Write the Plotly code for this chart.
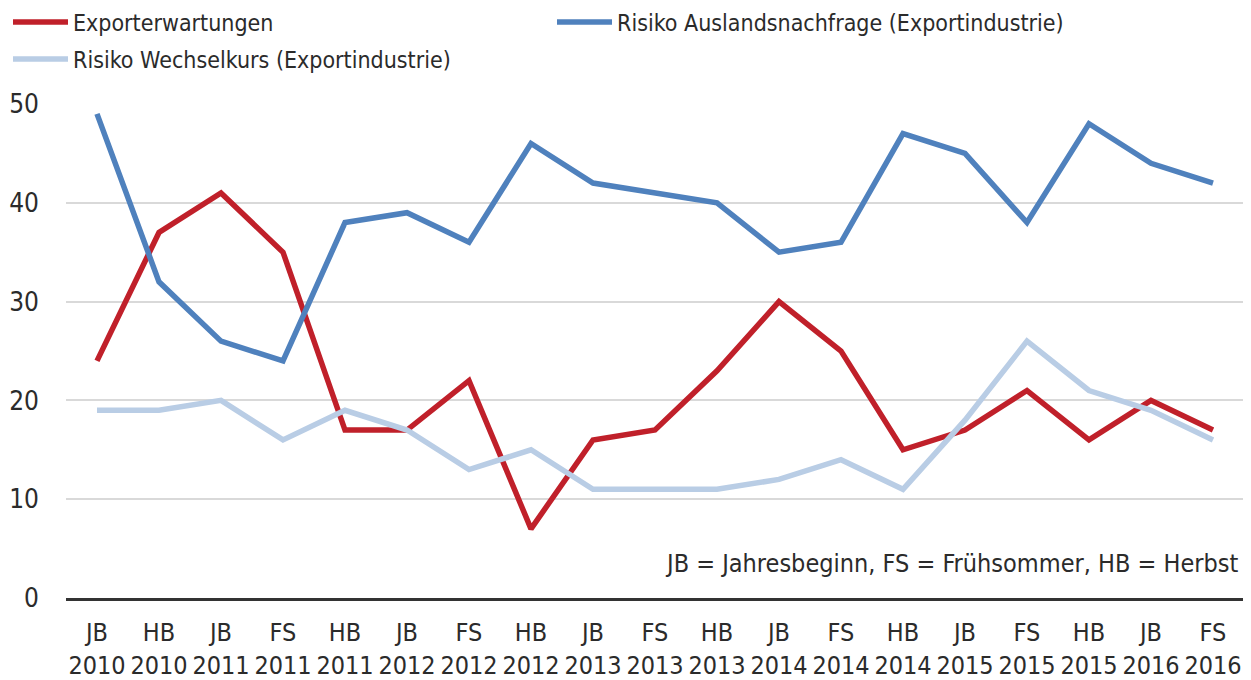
import plotly.graph_objects as go

categories = ["JB<br>2010", "HB<br>2010", "JB<br>2011", "FS<br>2011", "HB<br>2011", "JB<br>2012",
              "FS<br>2012", "HB<br>2012", "JB<br>2013", "FS<br>2013", "HB<br>2013", "JB<br>2014",
              "FS<br>2014", "HB<br>2014", "JB<br>2015", "FS<br>2015", "HB<br>2015", "JB<br>2016",
              "FS<br>2016"]
exporterwartungen = [24, 37, 41, 35, 17, 17, 22, 7, 16, 17, 23, 30, 25, 15, 17, 21, 16, 20, 17]
risiko_auslandsnachfrage = [49, 32, 26, 24, 38, 39, 36, 46, 42, 41, 40, 35, 36, 47, 45, 38, 48, 44, 42]
risiko_wechselkurs = [19, 19, 20, 16, 19, 17, 13, 15, 11, 11, 11, 12, 14, 11, 18, 26, 21, 19, 16]
y_ticks = [0, 10, 20, 30, 40, 50]

FONT = "Liberation Sans Narrow, DejaVu Sans Condensed, sans-serif"
TXT = "#2b2b2b"

fig = go.Figure()
fig.add_trace(go.Scatter(x=categories, y=exporterwartungen, mode="lines",
                         name="Exporterwartungen", line=dict(color="#C0202A", width=5.5),
                         legend="legend"))
fig.add_trace(go.Scatter(x=categories, y=risiko_auslandsnachfrage, mode="lines",
                         name="Risiko Auslandsnachfrage (Exportindustrie)",
                         line=dict(color="#4F81BD", width=5.5), legend="legend"))
fig.add_trace(go.Scatter(x=categories, y=risiko_wechselkurs, mode="lines",
                         name="Risiko Wechselkurs (Exportindustrie)",
                         line=dict(color="#B9CDE5", width=5.5), legend="legend2"))

fig.add_annotation(text="JB = Jahresbeginn, FS = Frühsommer, HB = Herbst",
                   xref="paper", yref="y", x=0.9975, y=3.5, xanchor="right", yanchor="middle",
                   showarrow=False, font=dict(family=FONT, size=25, color=TXT))

legend_common = dict(orientation="h", xref="container", yref="container", x=0.0,
                     xanchor="left", yanchor="middle", entrywidth=474, entrywidthmode="pixels",
                     itemwidth=55, font=dict(family=FONT, size=23, color=TXT),
                     traceorder="normal", bgcolor="rgba(0,0,0,0)")

fig.update_layout(
    width=1243, height=672,
    margin=dict(l=58, r=7, t=96, b=82, autoexpand=False),
    paper_bgcolor="white", plot_bgcolor="white",
    font=dict(family=FONT, color=TXT),
    showlegend=True,
    legend=dict(legend_common, y=1 - 14 / 672),
    legend2=dict(legend_common, y=1 - 51 / 672),
    xaxis=dict(type="category", range=[-0.5, len(categories) - 0.5], showgrid=False,
               showline=True, linecolor="#333333", linewidth=3, ticks="", tickangle=0,
               tickfont=dict(family=FONT, size=25, color=TXT), ticklabelstandoff=10),
    yaxis=dict(range=[0, 50], tickvals=y_ticks, showgrid=True, gridcolor="#D9D9D9",
               gridwidth=1.5, zeroline=False, showline=False, ticks="",
               tickfont=dict(family=FONT, size=26, color=TXT), ticklabelstandoff=26),
)

fig.write_html("out.html")
